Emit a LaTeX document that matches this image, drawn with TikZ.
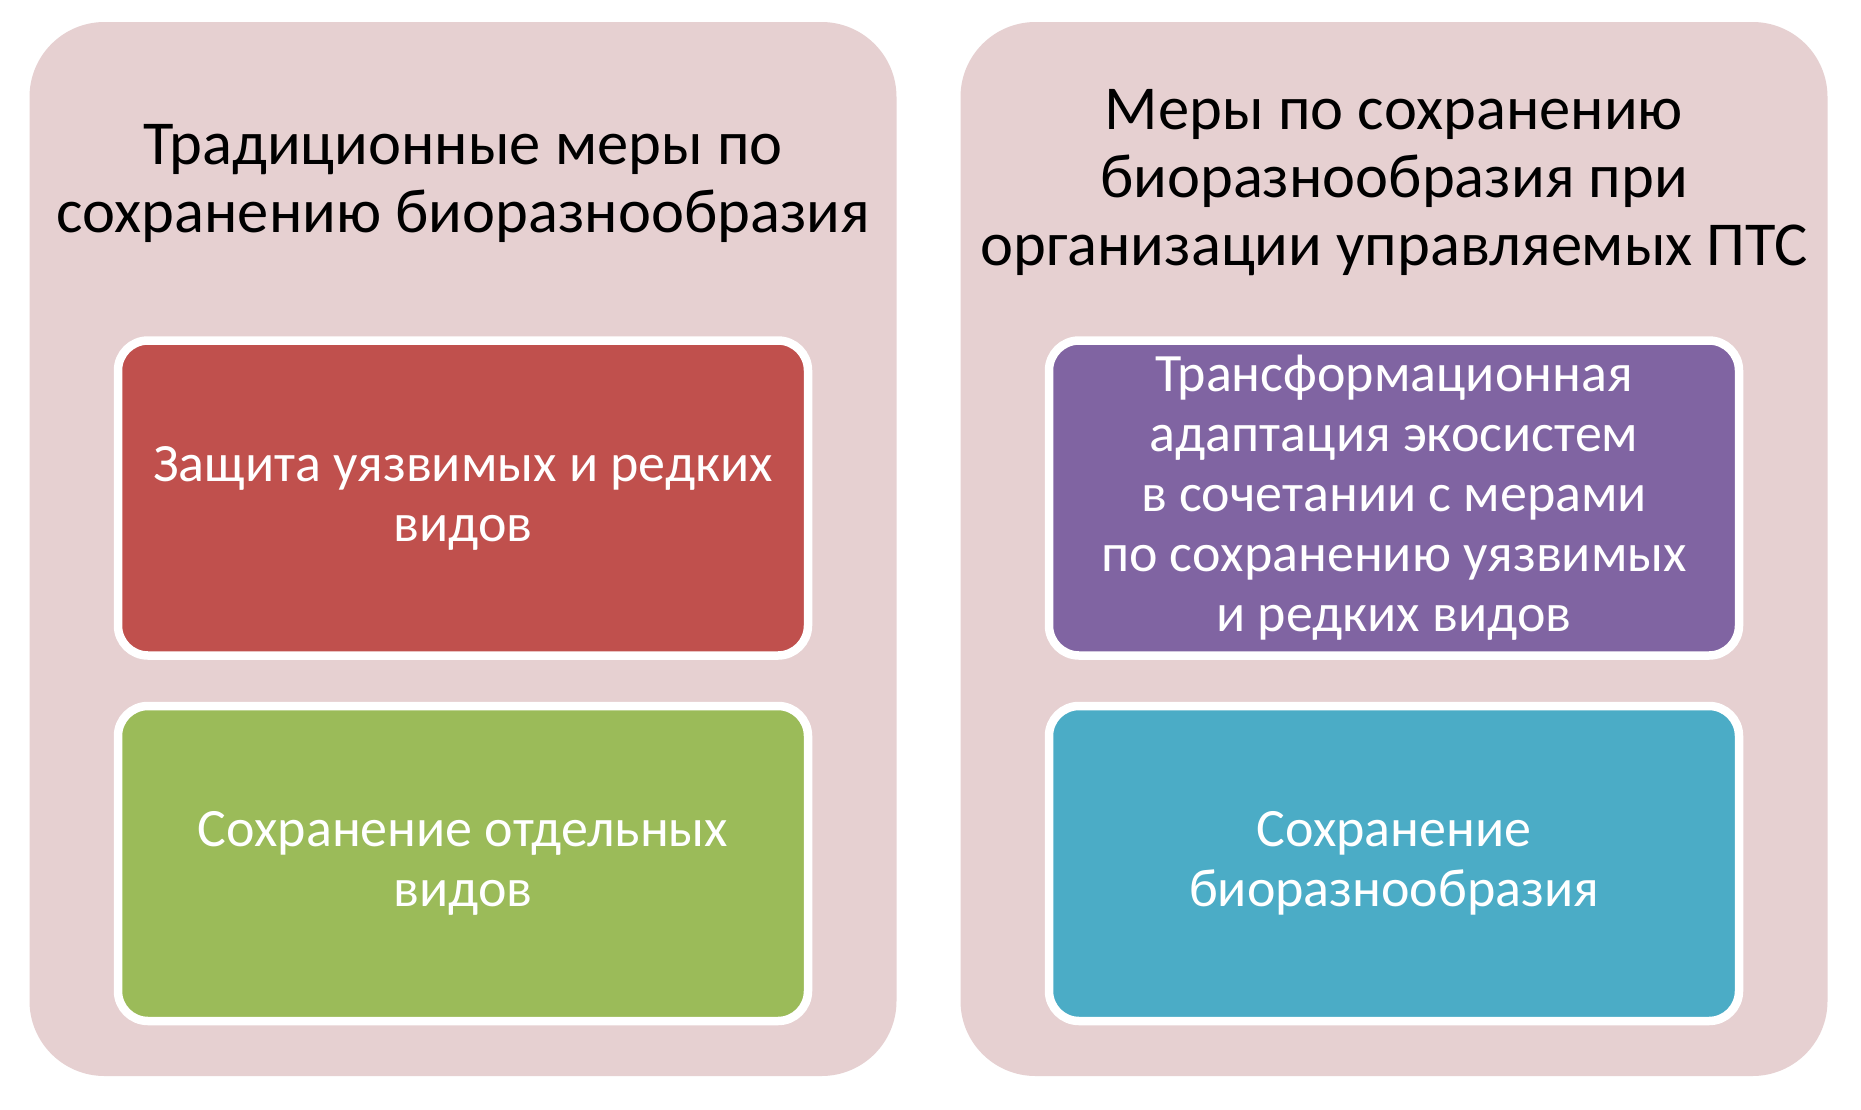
\documentclass[tikz,border=0pt]{standalone}
\usepackage{fontspec}
\setmainfont{Carlito}
\definecolor{panelbg}{HTML}{E6D0D1}
\definecolor{redbox}{HTML}{C0504D}
\definecolor{greenbox}{HTML}{9BBB59}
\definecolor{purplebox}{HTML}{8064A2}
\definecolor{tealbox}{HTML}{4BACC6}
\tikzset{
  panel/.style={rectangle, rounded corners=75pt, fill=panelbg, minimum width=867pt, minimum height=1054pt, inner sep=0pt},
  titletext/.style={align=center, text=black, font=\fontsize{62.5}{68}\selectfont, inner sep=0pt},
  itembox/.style={rectangle, rounded corners=30pt, draw=white, line width=8.5pt, minimum width=690pt, minimum height=315pt, text=white, align=center, font=\fontsize{54}{60}\selectfont, inner sep=0pt}
}
\begin{document}
\begin{tikzpicture}[x=1pt,y=-1pt]
\useasboundingbox (0,0) rectangle (1861,1109);
\fill[white] (0,0) rectangle (1861,1109);
\node[panel] (leftpanel) at (463,549) {};
\node[panel] (rightpanel) at (1394,549) {};
\node[titletext] (lefttitle) at (463,183) {Традиционные меры по\\сохранению биоразнообразия};
\node[titletext] (righttitle) at (1394,183) {Меры по сохранению\\биоразнообразия при\\организации управляемых ПТС};
\node[itembox, fill=redbox] (red) at (463,498) {Защита уязвимых и редких\\видов};
\node[itembox, fill=greenbox] (green) at (463,863.5) {Сохранение отдельных\\видов};
\node[itembox, fill=purplebox] (purple) at (1394,498) {Трансформационная\\адаптация экосистем\\в сочетании с мерами\\по сохранению уязвимых\\и редких видов};
\node[itembox, fill=tealbox] (teal) at (1394,863.5) {Сохранение\\биоразнообразия};
\end{tikzpicture}
\end{document}
